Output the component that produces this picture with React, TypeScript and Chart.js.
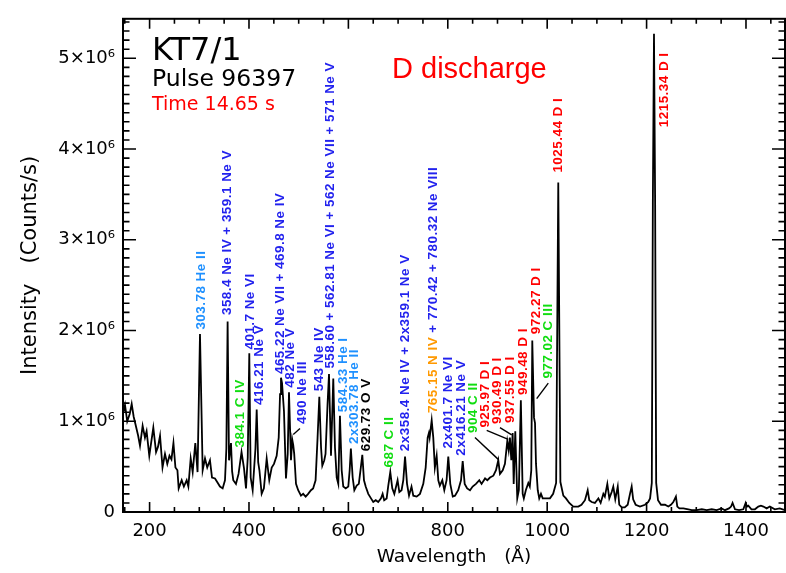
import React, { useEffect, useRef } from 'react';
import { Chart, registerables } from 'chart.js';

Chart.register(...registerables);

// ---- Spectrum (wavelength in Å, intensity in 10^6 counts/s) ----
const wavelengths = [
  146.5, 150.5, 155, 160, 164, 168, 171, 177, 180.7, 186, 190.7, 194, 199.4, 207.5, 213, 217, 221, 226, 231, 235.6,
  240, 244, 248, 252, 256, 258.5, 264.6, 269, 274.6, 278, 282.7, 286.7, 292, 296.5, 301.4, 306.8, 311.5, 316, 321.5, 325.6,
  331.6, 336, 341.6, 347, 351.7, 354.5, 357, 359.8, 363.8, 366, 368.4, 373.8, 379, 385, 390, 394, 397.5, 400.6, 403.4, 407.4,
  413, 415.5, 418.5, 421, 425.5, 430, 435.6, 440.8, 445.7, 450.3, 455.7, 459.8, 462.5, 464.4, 466.5, 470.4, 474.4, 477.9, 480.5, 484.5,
  487, 489, 491, 494.6, 499, 504.6, 509, 514, 519, 524.7, 529, 534, 538, 541.5, 545, 547.5, 551.5, 554, 558, 561,
  565, 569.6, 573, 576.5, 579.7, 583, 586.5, 589.7, 594.6, 599.8, 602.6, 605, 608.6, 612, 616.7, 621, 625, 628, 631.4, 634.8,
  640, 645.5, 650, 655, 660, 665.6, 668.9, 672, 677, 680, 684.3, 688.3, 692.4, 699, 702.5, 707, 710.5, 714, 718, 722,
  727, 730.6, 737.4, 744, 750.7, 755.5, 759.5, 762, 763.5, 767.6, 770.8, 774, 777.6, 780.9, 784, 789, 793, 797.6, 801, 805,
  810, 814.5, 821, 826.6, 830, 834, 839, 844.7, 850, 856.7, 863.4, 868, 875, 879.5, 885, 891.7, 897, 901.6, 905, 910.5,
  915, 919.7, 922.5, 925, 927.8, 930.5, 932.6, 935.8, 939.8, 943, 947, 950.7, 953, 957, 962, 965, 968, 970, 973.5, 975.5,
  977.5, 981, 984, 987.5, 991, 995.6, 1005.6, 1012, 1018, 1022.3, 1026.6, 1032.5, 1037.8, 1044.5, 1052.5, 1062.6, 1069, 1076, 1081.5, 1084.7,
  1089.5, 1096, 1103, 1107.6, 1113, 1116, 1121, 1125, 1129.8, 1133, 1137, 1142, 1145, 1150, 1156, 1162, 1166.6, 1170, 1173, 1178,
  1186.7, 1196.8, 1203.4, 1207, 1210.5, 1212.6, 1214.9, 1217.2, 1219.3, 1223, 1229, 1237, 1243.7, 1249, 1253.7, 1259, 1261.8, 1266, 1274, 1284,
  1290.7, 1300.8, 1311, 1321, 1331, 1341, 1351, 1357.7, 1365.8, 1370, 1373, 1377.9, 1386, 1394.6, 1399.4, 1402, 1404.7, 1411, 1418, 1424.8,
  1430, 1435, 1441.6, 1448, 1458, 1468, 1478.5,
];

const intensityMillions = [
  1.08, 1.18, 1.0, 1.08, 1.19, 1.05, 0.98, 0.84, 0.73, 0.95, 0.82, 0.89, 0.62, 0.93, 0.66, 0.72, 0.84, 0.49, 0.64, 0.53,
  0.62, 0.58, 0.76, 0.49, 0.46, 0.26, 0.35, 0.28, 0.35, 0.28, 0.59, 0.44, 0.76, 0.44, 1.96, 0.46, 0.59, 0.49, 0.57, 0.38,
  0.37, 0.33, 0.28, 0.26, 0.35, 0.7, 2.1, 0.57, 0.76, 0.45, 0.35, 0.31, 0.42, 0.66, 0.48, 0.26, 0.6, 1.75, 0.38, 0.24,
  0.7, 1.13, 0.55, 0.46, 0.2, 0.26, 0.59, 0.35, 0.49, 0.53, 0.62, 0.82, 1.3, 1.48, 1.42, 1.11, 0.37, 0.64, 1.32, 0.57,
  0.8, 0.74, 0.64, 0.31, 0.24, 0.18, 0.2, 0.17, 0.2, 0.24, 0.26, 0.35, 0.82, 1.27, 0.71, 0.51, 0.57, 0.64, 1.18, 1.52,
  0.62, 1.47, 0.71, 0.38, 0.31, 1.06, 0.46, 0.28, 0.26, 0.28, 0.46, 0.7, 0.38, 0.24, 0.29, 0.31, 0.49, 0.63, 0.35, 0.28,
  0.2, 0.15, 0.11, 0.13, 0.11, 0.15, 0.2, 0.13, 0.15, 0.28, 0.44, 0.26, 0.2, 0.35, 0.22, 0.24, 0.35, 0.61, 0.31, 0.18,
  0.28, 0.18, 0.17, 0.2, 0.31, 0.49, 0.82, 0.87, 0.82, 1.01, 0.82, 0.49, 0.62, 0.35, 0.29, 0.35, 0.24, 0.35, 0.61, 0.31,
  0.17, 0.18, 0.24, 0.35, 0.56, 0.31, 0.26, 0.24, 0.28, 0.31, 0.35, 0.31, 0.37, 0.35, 0.38, 0.4, 0.46, 0.57, 0.42, 0.46,
  0.53, 0.78, 0.68, 0.82, 0.57, 0.87, 0.31, 0.89, 0.15, 0.24, 1.23, 0.2, 0.15, 0.24, 0.32, 0.28, 0.46, 1.89, 1.04, 0.98,
  0.53, 0.24, 0.15, 0.2, 0.15, 0.15, 0.15, 0.2, 0.32, 3.63, 0.33, 0.18, 0.15, 0.1, 0.06, 0.06, 0.08, 0.13, 0.24, 0.13,
  0.11, 0.1, 0.15, 0.1, 0.2, 0.17, 0.31, 0.15, 0.22, 0.28, 0.14, 0.28, 0.08, 0.05, 0.05, 0.08, 0.2, 0.28, 0.14, 0.08,
  0.06, 0.08, 0.11, 0.15, 0.32, 3.4, 5.27, 3.4, 0.32, 0.13, 0.08, 0.08, 0.06, 0.08, 0.11, 0.17, 0.06, 0.04, 0.04, 0.03,
  0.02, 0.02, 0.03, 0.02, 0.03, 0.02, 0.04, 0.02, 0.04, 0.06, 0.1, 0.03, 0.02, 0.03, 0.1, 0.06, 0.07, 0.03, 0.03, 0.06,
  0.07, 0.06, 0.04, 0.06, 0.03, 0.04, 0.02,
];

// ---- Axis ticks ----
const xTickValues = [200, 400, 600, 800, 1000, 1200, 1400];
const yTickValues = [0, 1, 2, 3, 4, 5];
const X_MIN = 146.5;
const X_MAX = 1478.5;
const Y_MIN = 0;
const Y_MAX = 5.435;

// ---- Line identifications ----
const labelWavelengths = [303.4, 356.7, 402, 420.1, 382.9, 462.4, 482.5, 507.6, 540.8, 563, 589.1, 611.3, 636.8, 682.7, 713.9, 770.2, 800.4, 828, 850.7, 874.8, 899.6, 925.2, 951.3, 978.9, 1001.6, 1021.7, 1235];
const labelBases = [2.01, 2.17, 1.79, 1.18, 0.71, 1.52, 1.37, 0.97, 1.33, 1.58, 1.1, 0.75, 0.67, 0.49, 0.67, 1.09, 0.7, 0.62, 0.87, 0.93, 0.97, 0.98, 1.29, 1.96, 1.47, 3.74, 4.24];
const labelSegments = [
  ['303.78 He II'],
  ['358.4 Ne IV + 359.1 Ne V'],
  ['401.7 Ne VI'],
  ['416.21 Ne V'],
  ['384.1 C IV'],
  ['465.22 Ne VII + 469.8 Ne IV'],
  ['482 Ne V'],
  ['490 Ne III'],
  ['543 Ne IV'],
  ['558.60 + 562.81 Ne VI + 562 Ne VII + 571 Ne V'],
  ['584.33 He I'],
  ['2x303.78 He II'],
  ['629.73 O V'],
  ['687 C II'],
  ['2x358.4 Ne IV + 2x359.1 Ne V'],
  ['765.15 N IV', ' + 770.42 + 780.32 Ne VIII'],
  ['2x401.7 Ne VI'],
  ['2x416.21 Ne V'],
  ['904 C II'],
  ['925.97 D I'],
  ['930.49 D I'],
  ['937.55 D I'],
  ['949.48 D I'],
  ['972.27 D I'],
  ['977.02 C III'],
  ['1025.44 D I'],
  ['1215.34 D I'],
];
const labelSpecies = [
  ['he'], ['ne'], ['ne'], ['ne'], ['c'], ['ne'], ['ne'], ['ne'], ['ne'], ['ne'], ['he'], ['he'], ['o'], ['c'], ['ne'],
  ['n', 'ne'], ['ne'], ['ne'], ['c'], ['d'], ['d'], ['d'], ['d'], ['d'], ['c'], ['d'], ['d'],
];

// leader lines (from peak to label)
const leaderFromWl = [489.1, 901.6, 921.7, 928.6, 978.9];
const leaderFromI = [0.855, 0.58, 0.8, 0.85, 1.25];
const leaderToWl = [502.6, 854.7, 878.3, 905, 1002.2];
const leaderToI = [0.92, 0.82, 0.9, 0.93, 1.42];

const speciesColors: Record<string, string> = {
  ne: '#2222ee',
  he: '#1e90ff',
  c: '#11dd11',
  d: '#ff0000',
  n: '#ff9900',
  o: '#000000',
};

const HERSHEY = '"DejaVu Sans", sans-serif';
const HELV = '"Liberation Sans", Arial, sans-serif';

const frameTicksPlugin = {
  id: 'frameTicks',
  afterDraw(chart: any) {
    const { ctx, chartArea, scales } = chart;
    const { left, right, top, bottom } = chartArea;
    const x = scales.x;
    const y = scales.y;
    ctx.save();
    ctx.strokeStyle = '#000';
    ctx.lineWidth = 1.6;
    ctx.beginPath();
    for (let v = 150; v <= 1450; v += 50) {
      const px = x.getPixelForValue(v);
      const len = xTickValues.includes(v) ? 10 : 5;
      ctx.moveTo(px, bottom);
      ctx.lineTo(px, bottom - len);
      ctx.moveTo(px, top);
      ctx.lineTo(px, top + len);
    }
    for (let k = 0; k <= 54; k++) {
      const py = y.getPixelForValue(k / 10);
      const len = k % 10 === 0 ? 13 : 6.5;
      ctx.moveTo(left, py);
      ctx.lineTo(left + len, py);
      ctx.moveTo(right, py);
      ctx.lineTo(right - len, py);
    }
    ctx.stroke();
    ctx.lineWidth = 2;
    ctx.strokeRect(left, top, right - left, bottom - top);
    ctx.restore();
  },
};

const annotationPlugin = {
  id: 'lineIds',
  afterDatasetsDraw(chart: any) {
    const { ctx, scales } = chart;
    const x = scales.x;
    const y = scales.y;
    ctx.save();
    // leader lines
    ctx.strokeStyle = '#000';
    ctx.lineWidth = 1.4;
    leaderFromWl.forEach((w, i) => {
      ctx.beginPath();
      ctx.moveTo(x.getPixelForValue(w), y.getPixelForValue(leaderFromI[i]));
      ctx.lineTo(x.getPixelForValue(leaderToWl[i]), y.getPixelForValue(leaderToI[i]));
      ctx.stroke();
    });
    // rotated labels
    ctx.font = `bold 13.5px ${HELV}`;
    if ('letterSpacing' in ctx) (ctx as any).letterSpacing = '0.45px';
    ctx.textBaseline = 'middle';
    ctx.textAlign = 'left';
    labelSegments.forEach((segs, i) => {
      const px = x.getPixelForValue(labelWavelengths[i]);
      const py = y.getPixelForValue(labelBases[i]);
      ctx.save();
      ctx.translate(px, py);
      ctx.rotate(-Math.PI / 2);
      let off = 0;
      segs.forEach((s, j) => {
        ctx.fillStyle = speciesColors[labelSpecies[i][j]];
        ctx.fillText(s, off, 0);
        off += ctx.measureText(s).width;
      });
      ctx.restore();
    });
    if ('letterSpacing' in ctx) (ctx as any).letterSpacing = '0px';
    // header texts
    ctx.textBaseline = 'alphabetic';
    ctx.fillStyle = '#000';
    ctx.font = `32px ${HERSHEY}`;
    ctx.fillText('KT7/1', 152, 60);
    ctx.font = `23.5px ${HERSHEY}`;
    ctx.fillText('Pulse 96397', 152, 86);
    ctx.fillStyle = '#ff0000';
    ctx.font = `19px ${HERSHEY}`;
    ctx.fillText('Time 14.65 s', 152, 110);
    ctx.font = `29px ${HELV}`;
    ctx.fillText('D discharge', 392, 78);
    ctx.restore();
  },
};

export default function App() {
  const canvasRef = useRef<HTMLCanvasElement | null>(null);

  useEffect(() => {
    const canvas = canvasRef.current;
    if (!canvas) return;
    const points = wavelengths.map((w, i) => ({ x: w, y: intensityMillions[i] }));
    const chart = new Chart(canvas, {
      type: 'line',
      data: {
        datasets: [
          {
            data: points,
            borderColor: '#000',
            borderWidth: 1.8,
            pointRadius: 0,
            tension: 0,
            fill: false,
          },
        ],
      },
      options: {
        animation: false,
        responsive: false,
        maintainAspectRatio: false,
        layout: { padding: { top: 12, right: 1, left: 0, bottom: 0 } },
        plugins: { legend: { display: false }, tooltip: { enabled: false } },
        scales: {
          x: {
            type: 'linear',
            min: X_MIN,
            max: X_MAX,
            grid: { display: false, drawTicks: false },
            border: { display: false },
            afterBuildTicks: (scale: any) => {
              scale.ticks = xTickValues.map((v) => ({ value: v }));
            },
            afterFit: (scale: any) => {
              scale.height = 61;
            },
            ticks: {
              autoSkip: false,
              maxRotation: 0,
              padding: 9,
              color: '#000',
              font: { family: HERSHEY, size: 18 },
              callback: (v: any) => String(v),
            },
            title: {
              display: true,
              text: 'Wavelength   (Å)',
              color: '#000',
              font: { family: HERSHEY, size: 18.5 },
              padding: { top: 0, bottom: 5 },
            },
          },
          y: {
            type: 'linear',
            min: Y_MIN,
            max: Y_MAX,
            grid: { display: false, drawTicks: false },
            border: { display: false },
            afterBuildTicks: (scale: any) => {
              scale.ticks = yTickValues.map((v) => ({ value: v }));
            },
            afterFit: (scale: any) => {
              scale.width = 123;
            },
            ticks: {
              autoSkip: false,
              padding: 8,
              color: '#000',
              font: { family: HERSHEY, size: 18 },
              callback: (v: any) => (v === 0 ? '0' : `${v}×10⁶`),
            },
            title: {
              display: true,
              text: 'Intensity   (Counts/s)',
              color: '#000',
              font: { family: HERSHEY, size: 21 },
              padding: { top: 18, bottom: 0 },
            },
          },
        },
      },
      plugins: [frameTicksPlugin, annotationPlugin],
    });
    return () => chart.destroy();
  }, []);

  return (
    <div style={{ position: 'absolute', left: 0, top: 0, width: 786, height: 573, background: '#fff' }}>
      <canvas ref={canvasRef} width={786} height={573} style={{ width: 786, height: 573, display: 'block' }} />
    </div>
  );
}
